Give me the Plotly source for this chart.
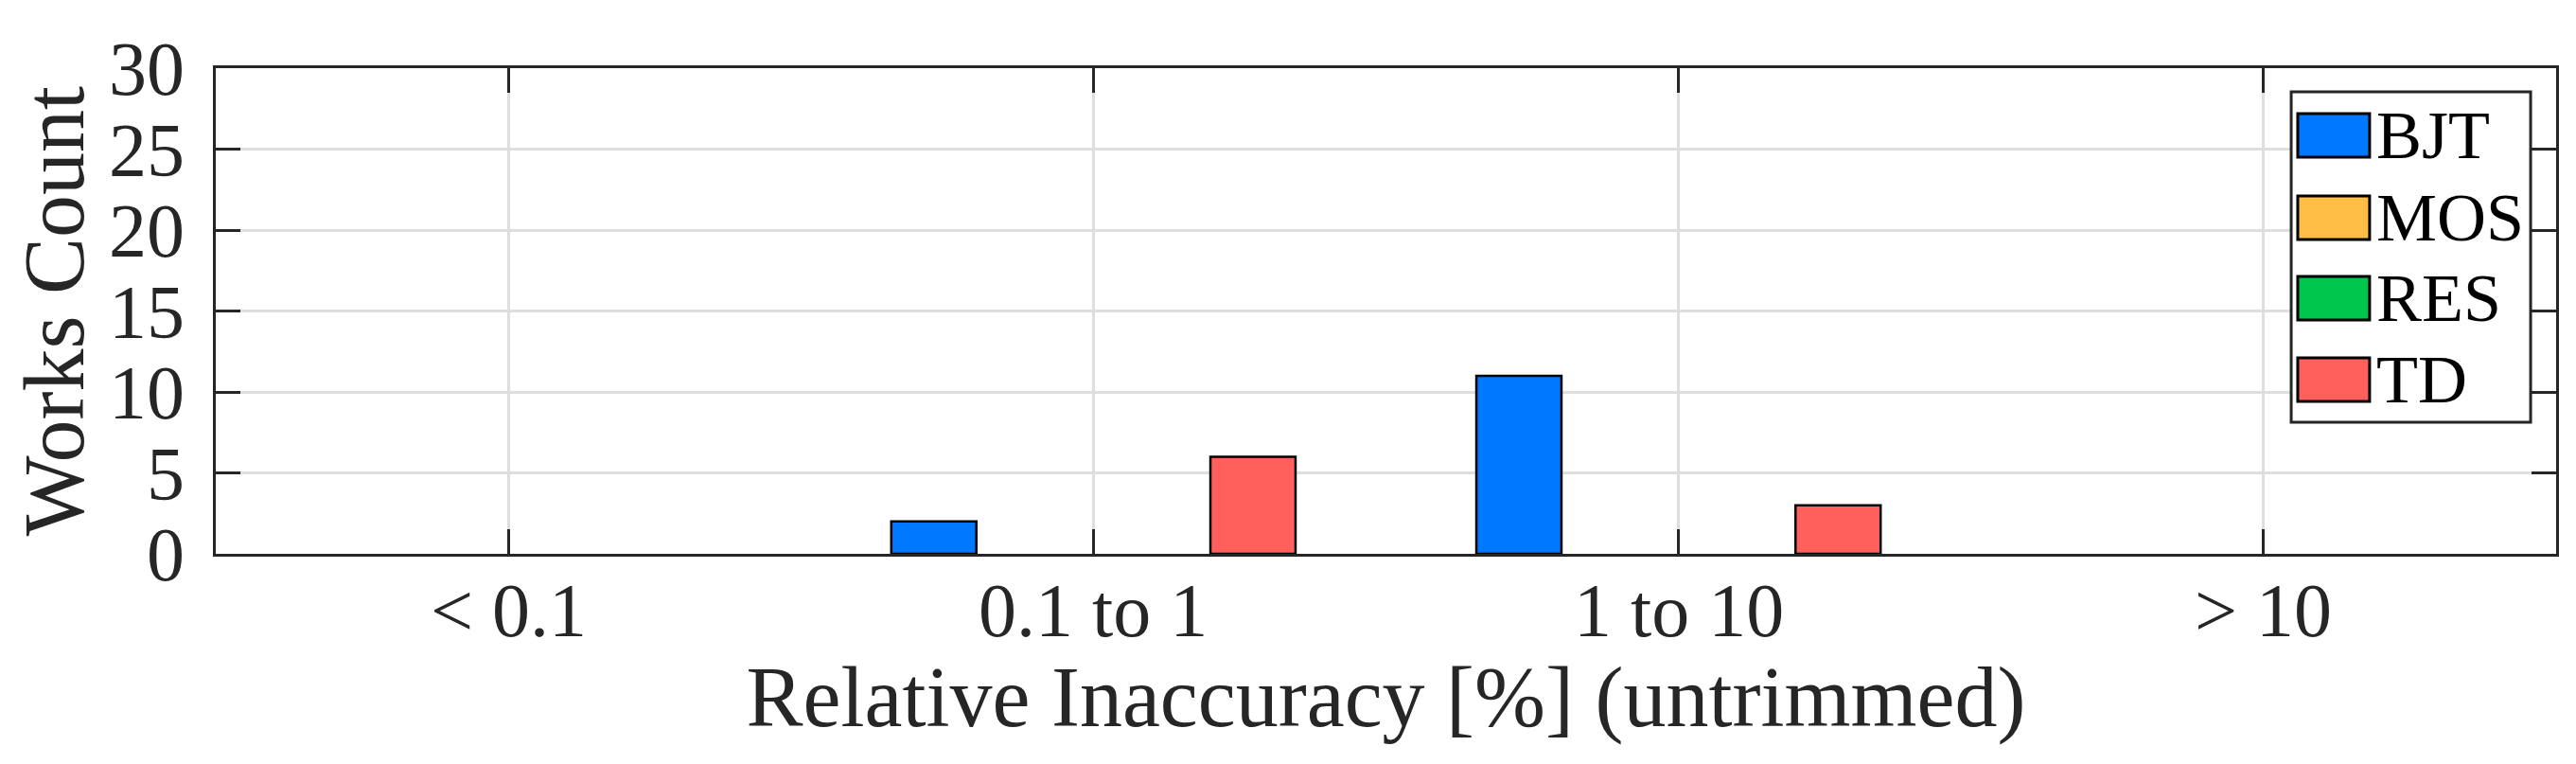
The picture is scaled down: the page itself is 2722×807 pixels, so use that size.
import plotly.graph_objects as go

categories = ["< 0.1", "0.1 to 1", "1 to 10", "> 10"]
series_names = ["BJT", "MOS", "RES", "TD"]
bjt = [0, 2, 11, 0]
mos = [0, 0, 0, 0]
res = [0, 0, 0, 0]
td = [0, 6, 3, 0]
series_values = [bjt, mos, res, td]
colors = ["#0078FF", "#FFBD45", "#00C74B", "#FF605C"]
y_ticks = [0, 5, 10, 15, 20, 25, 30]

FONT = "Liberation Serif"
AX = "#262626"

fig = go.Figure()
for name, vals, col in zip(series_names, series_values, colors):
    fig.add_trace(go.Bar(
        x=categories, y=vals, name=name,
        marker=dict(color=col,
                    line=dict(color="black", width=[2.5 if v > 0 else 0 for v in vals])),
        showlegend=False,
    ))

# x tick labels placed just below the axis (MATLAB spacing)
for c in categories:
    fig.add_annotation(xref="x", yref="paper", x=c, y=-0.117, text=c,
                       showarrow=False, xanchor="center", yanchor="middle",
                       borderpad=0,
                       font=dict(family=FONT, size=80, color=AX))

# manual legend (MATLAB style)
L, R, T, B = 0.8868, 0.9891, 0.9513, 0.2710
fig.add_shape(type="rect", xref="paper", yref="paper", x0=L, x1=R, y0=B, y1=T,
              line=dict(color=AX, width=3), fillcolor="white", layer="above")
row_centers = [0.8616, 0.6920, 0.5263, 0.3587]
for name, col, yc in zip(series_names, colors, row_centers):
    fig.add_shape(type="rect", xref="paper", yref="paper",
                  x0=0.8896, x1=0.9203, y0=yc - 0.0448, y1=yc + 0.0448,
                  line=dict(color="black", width=3), fillcolor=col, layer="above")
    fig.add_annotation(xref="paper", yref="paper", x=0.9222, y=yc, text=name,
                       showarrow=False, xanchor="left", yanchor="middle",
                       font=dict(family=FONT, size=72, color="black"))

fig.update_layout(
    width=2722, height=807,
    margin=dict(l=220, r=29, t=64, b=230),
    plot_bgcolor="white", paper_bgcolor="white",
    barmode="group", bargap=0.2727, bargroupgap=0.2,
    font=dict(family=FONT, color=AX),
)
fig.update_xaxes(
    type="category", range=[-0.5, 3.5], automargin=False,
    showline=True, linecolor=AX, linewidth=3, mirror="ticks",
    ticks="inside", ticklen=26, tickwidth=2.5, tickcolor=AX,
    showgrid=True, gridcolor="#DEDEDE", gridwidth=3,
    showticklabels=False,
    title=dict(text="Relative Inaccuracy [%] (untrimmed)",
               font=dict(family=FONT, size=90, color=AX), standoff=117),
)
fig.update_yaxes(
    range=[0, 30], tickvals=y_ticks, automargin=False,
    showline=True, linecolor=AX, linewidth=3, mirror="ticks",
    ticks="inside", ticklen=26, tickwidth=2.5, tickcolor=AX,
    showgrid=True, gridcolor="#DEDEDE", gridwidth=3, zeroline=False,
    tickfont=dict(family=FONT, size=80, color=AX),
    ticklabelstandoff=14,
    title=dict(text="Works Count", font=dict(family=FONT, size=90, color=AX), standoff=56),
)

fig.write_html("out.html")
